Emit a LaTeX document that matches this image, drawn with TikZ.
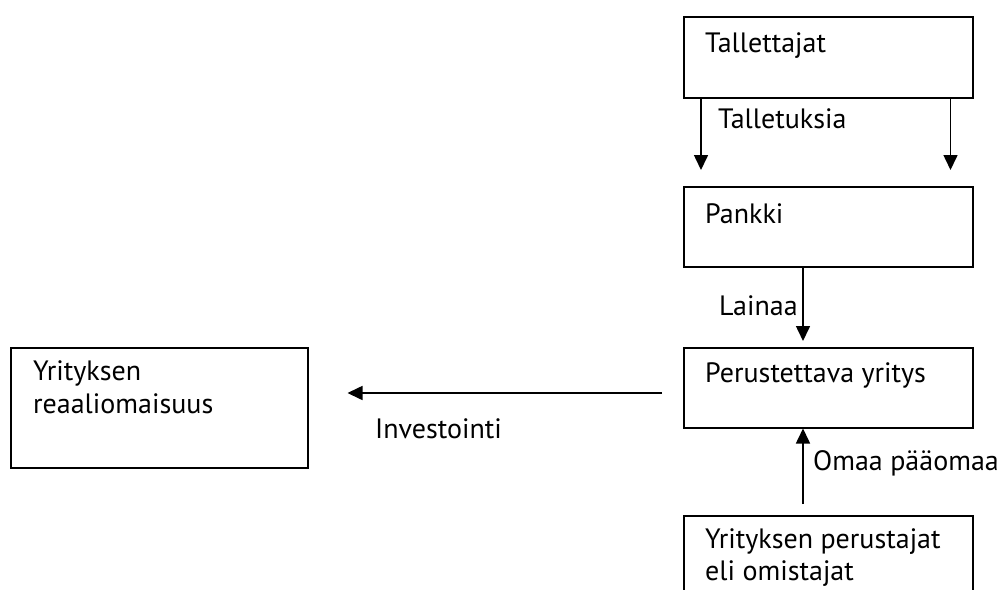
\documentclass[tikz,border=0pt]{standalone}
\usepackage{fontspec}
\setmainfont{PT Sans}
\usetikzlibrary{arrows.meta}
\begin{document}
\begin{tikzpicture}[x=1pt,y=-1pt,
  box/.style={draw,line width=1.5pt,inner sep=0pt,anchor=north west},
  txt/.style={anchor=base west,inner sep=0pt,font=\fontsize{28}{33}\selectfont},
  arr/.style={line width=1.6pt,-{Triangle[width=14pt,length=15pt]}}]
  \useasboundingbox (0,0) rectangle (998,589);
  \clip (0,0) rectangle (998,589);
  % boxes
  \node[box,minimum width=289pt,minimum height=81pt] (tal) at (683,16) {};
  \node[box,minimum width=289pt,minimum height=80pt] (pan) at (683,186) {};
  \node[box,minimum width=289pt,minimum height=80pt] (per) at (683,347) {};
  \node[box,minimum width=289pt,minimum height=100pt] (ome) at (683,515) {};
  \node[box,minimum width=297pt,minimum height=120pt] (rea) at (10,347) {};
  % box texts
  \node[txt] (talt) at (705,52) {Tallettajat};
  \node[txt] (pant) at (705,223) {Pankki};
  \node[txt] (pert) at (705,382) {Perustettava yritys};
  \node[txt] (omet1) at (705,548) {Yrityksen perustajat};
  \node[txt] (omet2) at (705,580) {eli omistajat};
  \node[txt] (reat1) at (33,380) {Yrityksen};
  \node[txt] (reat2) at (33,413) {reaaliomaisuus};
  % flows
  \draw[arr,shorten >=16pt] ([xshift=18pt]tal.south west) -- ([xshift=18pt]pan.north west);
  \draw[arr,shorten >=16pt] ([xshift=-23pt]tal.south east) -- ([xshift=-23pt]pan.north east);
  \draw[arr,shorten >=6pt] ([xshift=120pt]pan.south west) -- ([xshift=120pt]per.north west);
  \draw[arr,shorten <=11pt] ([xshift=120pt]ome.north west) -- ([xshift=120pt]per.south west);
  \draw[arr,shorten <=21pt,shorten >=39pt] ([yshift=-46pt]per.north west) -- ([yshift=-46pt]per.north west -| rea.east);
  % flow labels
  \node[txt] (l1) at (718,128) {Talletuksia};
  \node[txt] (l2) at (719,315) {Lainaa};
  \node[txt] (l3) at (813,470) {Omaa pääomaa};
  \node[txt] (l4) at (375,438) {Investointi};
\end{tikzpicture}
\end{document}
